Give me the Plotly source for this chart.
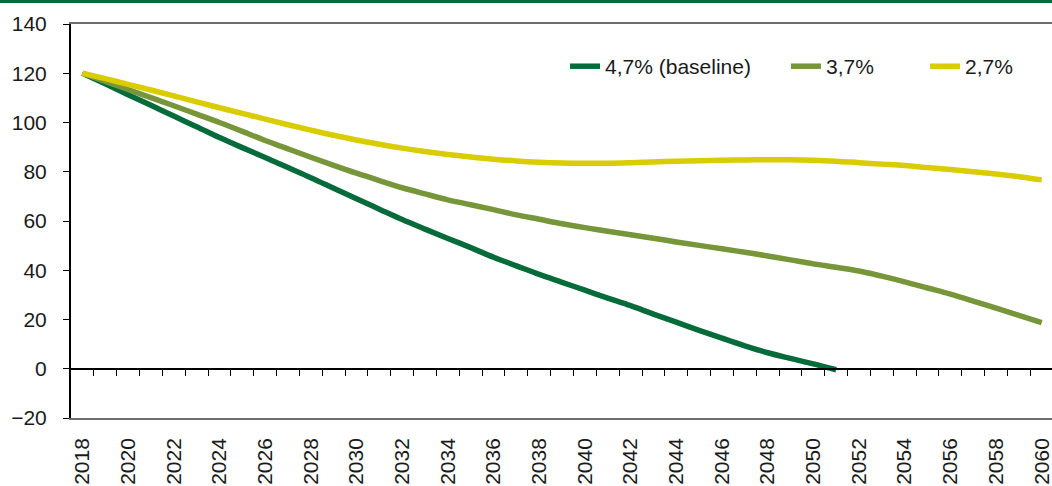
import plotly.graph_objects as go

years = list(range(2018, 2061))

baseline_47 = [120, 115.7, 111.3, 107.0, 102.6, 98.3, 93.9, 89.8, 85.8, 81.7, 77.6,
               73.3, 69.0, 64.8, 60.6, 56.7, 52.9, 49.2, 45.3, 41.8, 38.3, 35.1,
               31.9, 28.7, 25.6, 22.2, 18.9, 15.6, 12.4, 9.3, 6.5, 4.2, 2.0, -0.4]
rate_37 = [120, 116.7, 113.4, 110.1, 106.8, 103.4, 100.0, 96.4, 92.7, 89.3, 85.9,
           82.6, 79.4, 76.4, 73.5, 71.0, 68.6, 66.6, 64.6, 62.5, 60.7, 58.9, 57.3,
           55.8, 54.4, 53.0, 51.5, 50.1, 48.7, 47.3, 45.8, 44.2, 42.6, 41.2, 39.7,
           37.6, 35.3, 32.8, 30.3, 27.5, 24.6, 21.7, 18.7]
rate_27 = [120, 117.8, 115.5, 113.2, 110.8, 108.4, 106.0, 103.7, 101.4, 99.1, 96.9,
           94.8, 92.9, 91.2, 89.6, 88.2, 87.0, 86.0, 85.1, 84.4, 83.9, 83.6, 83.5,
           83.5, 83.7, 84.0, 84.3, 84.5, 84.7, 84.8, 84.9, 84.9, 84.7, 84.3, 83.7,
           83.1, 82.5, 81.7, 80.9, 80.0, 79.1, 78.0, 76.7]

names = ["4,7% (baseline)", "3,7%", "2,7%"]
colors = ["#066b3a", "#77963a", "#d9cc00"]
series = [baseline_47, rate_37, rate_27]
legend_ids = ["legend", "legend2", "legend3"]
legend_x = [0.5036, 0.7288, 0.8705]

y_ticks = [-20, 0, 20, 40, 60, 80, 100, 120, 140]
x_labels = list(range(2018, 2061, 2))

FONT = "Liberation Sans, Arial, sans-serif"

fig = go.Figure()
for i, (name, col, vals) in enumerate(zip(names, colors, series)):
    fig.add_trace(go.Scatter(
        x=years[:len(vals)], y=vals, name=name, mode="lines",
        line=dict(color=col, width=5.5, shape="spline", smoothing=1.0),
        legend=legend_ids[i],
        # last series sits on the overlay axis that carries the zero line + ticks
        xaxis="x2" if i == 2 else "x",
    ))

xr = [2017.5, 2060.45]
leg_common = dict(orientation="h", y=0.944, yanchor="top", xanchor="left",
                  font=dict(size=21, color="#1a1a1a"), bgcolor="rgba(0,0,0,0)")

fig.update_layout(
    width=1052, height=486,
    margin=dict(l=71, r=0, t=24, b=68),
    plot_bgcolor="white", paper_bgcolor="white",
    font=dict(family=FONT, size=21, color="#1a1a1a"),
    showlegend=True,
    legend=dict(x=legend_x[0], **leg_common),
    legend2=dict(x=legend_x[1], **leg_common),
    legend3=dict(x=legend_x[2], **leg_common),
    xaxis=dict(range=xr, tickmode="array", tickvals=x_labels,
               ticktext=[str(v) for v in x_labels], tickangle=-90,
               ticks="", showgrid=False, zeroline=False,
               showline=True, mirror="all", linecolor="#6e6e6e", linewidth=1.5,
               automargin=False, ticklabelstandoff=10, ticklabeloverflow="allow"),
    xaxis2=dict(range=xr, overlaying="x", anchor="free", position=0.125,
                tickmode="array", tickvals=[y + 0.5 for y in range(2018, 2060)],
                showticklabels=False, ticks="outside", ticklen=6, tickwidth=1.3,
                tickcolor="black", showline=True, linecolor="black", linewidth=2,
                showgrid=False, zeroline=False),
    yaxis=dict(range=[-20, 140], tickmode="array", tickvals=y_ticks,
               showgrid=False, zeroline=False, showline=True,
               linecolor="black", linewidth=2, ticks="outside", ticklen=6,
               tickwidth=1.3, tickcolor="black", automargin=False,
               ticklabelstandoff=12),
    shapes=[
        dict(type="line", xref="paper", yref="paper",
             x0=-71 / 981, x1=1, y0=1.0571, y1=1.0571,
             line=dict(color="#066b3a", width=3)),
    ],
)

fig.write_html("out.html", post_script="document.body.style.margin='0px';",
               config={"displayModeBar": False})
